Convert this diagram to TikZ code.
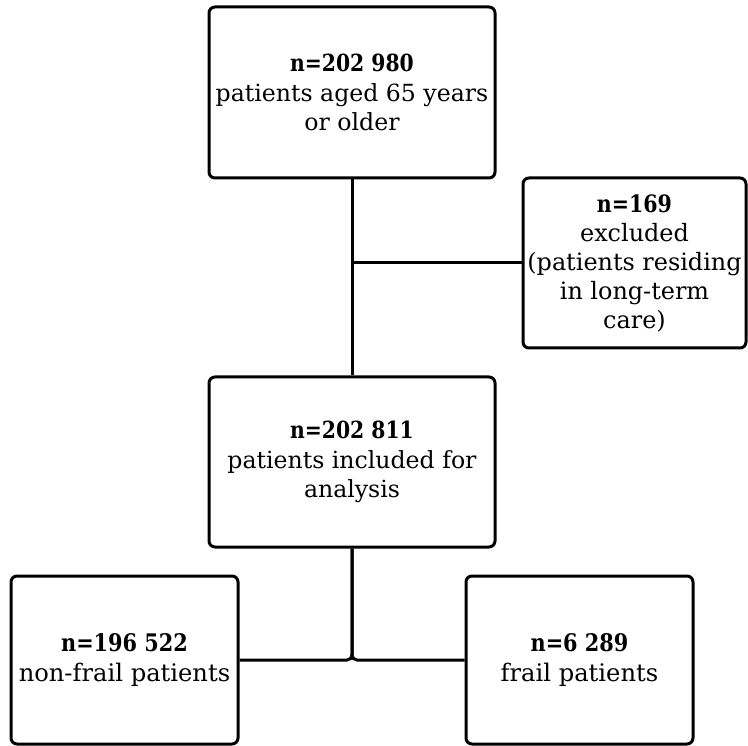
\documentclass[tikz,border=0pt]{standalone}
\usepackage{fontspec}
\setmainfont{DejaVu Serif}
\newcommand{\hdr}[1]{\scalebox{0.86}[1]{\textbf{#1}}}
\begin{document}
\begin{tikzpicture}[x=1pt,y=-1pt,
  box/.style={draw=black, line width=3pt, rounded corners=6pt, align=center,
    inner sep=0pt, font=\fontsize{23.6}{29.5}\selectfont},
  conn/.style={draw=black, line width=3pt}]
\useasboundingbox (0,0) rectangle (748,746);
\node[box, minimum width=286pt, minimum height=171pt] (top) at (352,92.5)
  {\hdr{n=202 980}\\patients aged 65 years\\or older};
\node[box, minimum width=223pt, minimum height=170pt, font=\fontsize{23.9}{29}\selectfont] (excl) at (634.5,263)
  {\hdr{n=169}\\excluded\\(patients residing\\in long-term\\care)};
\node[box, minimum width=286pt, minimum height=170pt] (mid) at (352,462)
  {\hdr{n=202 811}\\patients included for\\analysis};
\node[box, minimum width=227pt, minimum height=168pt, font=\fontsize{24.2}{30}\selectfont] (left) at (124.5,660)
  {\hdr{n=196 522}\\non-frail patients};
\node[box, minimum width=227pt, minimum height=168pt, font=\fontsize{24.2}{30}\selectfont] (right) at (579.5,660)
  {\hdr{n=6 289}\\frail patients};
\coordinate (j) at (top.south |- excl.west);
\draw[conn] (top.south) -- (mid.north);
\draw[conn] (j) -- (excl.west);
\draw[conn, rounded corners=5pt] (mid.south) |- (left.east);
\draw[conn, rounded corners=5pt] (mid.south) |- (right.west);
\end{tikzpicture}
\end{document}
